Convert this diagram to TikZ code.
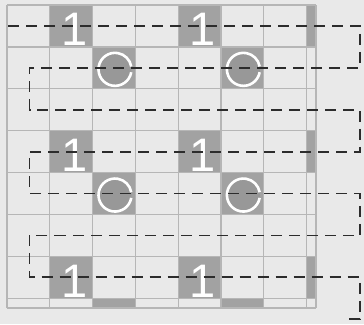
\documentclass[tikz,border=0pt]{standalone}
\usepackage{fontspec}
\setmainfont{Liberation Sans}
\definecolor{bgc}{HTML}{E9E9E9}
\definecolor{gridc}{HTML}{B6B6B6}
\definecolor{cellg}{HTML}{A2A2A2}
\definecolor{circg}{HTML}{989898}
\definecolor{dashc}{HTML}{2C2C2C}
\begin{document}
\begin{tikzpicture}[x=1pt,y=-1pt,
  gridline/.style={draw=gridc, line width=1.2pt},
  graycell/.style={fill=cellg},
  pathline/.style={draw=dashc, line width=1.8pt, dash pattern=on 11pt off 7pt},
  onelabel/.style={text=white, font=\fontsize{47}{47}\selectfont, inner sep=0pt, anchor=base},
  ringfill/.style={fill=circg},
  ringline/.style={draw=white, line width=2.6pt}]
\def\xo{7}\def\yo{5}\def\cw{42.8}\def\rh{41.9}
\useasboundingbox (0,0) rectangle (364,324);
\fill[bgc] (0,0) rectangle (364,324);
% gray cells with "1"
\foreach \r in {0,3,6}{
  \foreach \c in {1,4}{
    \fill[graycell] ({\xo+\c*\cw},{\yo+\r*\rh}) rectangle ++(\cw,\rh);
  }
  \fill[graycell] ({\xo+7*\cw},{\yo+\r*\rh}) rectangle (316,{\yo+(\r+1)*\rh});
}
% gray cells with circles
\foreach \r in {1,4}{
  \foreach \c in {2,5}{
    \fill[graycell] ({\xo+\c*\cw},{\yo+\r*\rh}) rectangle ++(\cw,\rh);
  }
}
\foreach \c in {2,5}{
  \fill[graycell] ({\xo+\c*\cw},{\yo+7*\rh}) rectangle ({\xo+(\c+1)*\cw},308);
}
% grid
\foreach \i in {0,...,7}{
  \draw[gridline] ({\xo+\i*\cw},\yo) -- ({\xo+\i*\cw},308);
  \draw[gridline] (\xo,{\yo+\i*\rh}) -- (316,{\yo+\i*\rh});
}
\draw[gridline] (316,\yo) -- (316,308);
\draw[gridline] (\xo,308) -- (316,308);
% digits
\foreach \r/\c/\n in {0/1/a,0/4/b,3/1/c,3/4/d,6/1/e,6/4/f}{
  \node[onelabel] (one\n) at ({\xo+(\c+0.5)*\cw+3},{\yo+(\r+1)*\rh-1}) {1};
}
% circles
\foreach \r/\c/\n in {1/2/a,1/5/b,4/2/c,4/5/d}{
  \coordinate (cc\n) at ({\xo+(\c+0.5)*\cw+1},{\yo+(\r+0.5)*\rh+1.5});
  \fill[ringfill] (cc\n) circle (16.5);
  \draw[ringline] (cc\n) ++(10:16.5) arc (10:350:16.5);
}
% serpentine path
\def\L{29.5}\def\R{360}
\coordinate (s0) at (8,{\yo+0.5*\rh});
\foreach \k in {0,...,7}{
  \coordinate (l\k) at (\L,{\yo+(\k+0.5)*\rh});
  \coordinate (r\k) at (\R,{\yo+(\k+0.5)*\rh});
}
\coordinate (e7) at (349,{\yo+7.5*\rh});
\draw[pathline] (s0) -- (r0) -- (r1) -- (l1) -- (l2) -- (r2) -- (r3) -- (l3)
  -- (l4) -- (r4) -- (r5) -- (l5) -- (l6) -- (r6) -- (r7) -- (e7);
\end{tikzpicture}
\end{document}
